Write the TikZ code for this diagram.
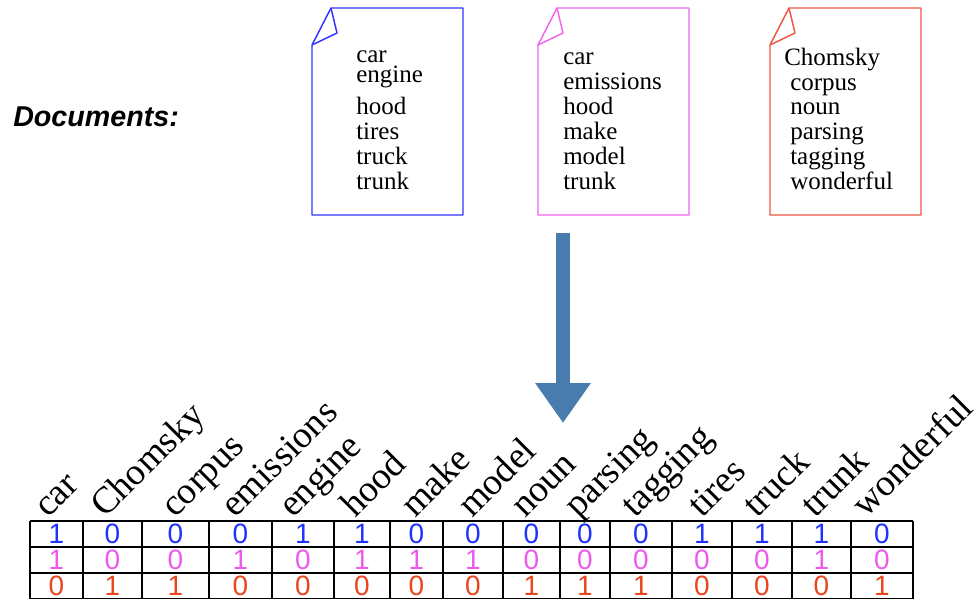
\documentclass[tikz,border=0pt]{standalone}
\usepackage{fontspec}
\setmainfont{Liberation Serif}
\setsansfont{Liberation Sans}
\usetikzlibrary{arrows.meta}
\definecolor{docblue}{RGB}{51,51,255}
\definecolor{docpink}{RGB}{238,102,238}
\definecolor{docred}{RGB}{238,85,68}
\definecolor{arrowblue}{RGB}{72,124,174}
\definecolor{valblue}{RGB}{30,50,255}
\definecolor{valpink}{RGB}{236,90,236}
\definecolor{valred}{RGB}{232,70,30}
\newcommand\docfont{\fontsize{18.75}{18.75}\selectfont}
\newcommand\termfont{\fontsize{28}{28}\selectfont}
\newcommand\cellfont{\sffamily\fontsize{21}{21}\selectfont}
\tikzset{
  heading/.style = {font=\sffamily\bfseries\itshape\fontsize{21.5}{21.5}\selectfont, anchor=base west, inner sep=0pt},
  docpage/.style = {line width=1.1pt, line join=round},
  docword/.style = {font=\docfont, anchor=base west, inner sep=0pt},
  bigarrow/.style = {arrowblue, line width=10.5pt, -{Triangle[width=39.75pt, length=30pt]}},
  termlabel/.style = {font=\termfont, rotate=45, anchor=base west, inner sep=0pt},
  cellval/.style = {font=\cellfont, inner sep=0pt},
  gridline/.style = {line width=1.3pt},
}

\begin{document}
\begin{tikzpicture}[x=0.75pt, y=-0.75pt]
  \useasboundingbox (0,0) rectangle (979,599);

  % heading
  \node[heading] (doclabel) at (13,127) {Documents:};

  % the three pages with a folded corner
  \foreach \L/\R/\col in {312/463/docblue, 538/689/docpink, 770/921/docred}{
    \draw[docpage, \col] (\L+19,8) -- (\R,8) -- (\R,215) -- (\L,215) -- (\L,45) -- cycle;
    \draw[docpage, \col] (\L,45) -- (\L+25,33) -- (\L+19,8);
  }

  % words on each page
  \foreach \w/\y [count=\i] in {car/63, engine/83, hood/115, tires/140, truck/165, trunk/190}
    \node[docword] (da\i) at (356,\y) {\w};
  \foreach \w/\y [count=\i] in {car/65, emissions/90, hood/115, make/140, model/165, trunk/190}
    \node[docword] (db\i) at (563,\y) {\w};
  \node[docword] (dc1) at (784,66) {Chomsky};
  \foreach \w/\y [count=\i from 2] in {corpus/91, noun/115, parsing/140, tagging/165, wonderful/190}
    \node[docword] (dc\i) at (790,\y) {\w};

  % arrow down to the matrix
  \coordinate (arrtop) at (563,233);
  \coordinate (arrtip) at (563,423);
  \draw[bigarrow] (arrtop) -- (arrtip);

  % term labels and the 0/1 cells
  \foreach \t/\lx/\a/\b/\c/\lo/\hi [count=\k] in {
      car/48/1/1/0/30/83, Chomsky/105/0/0/1/83/142, corpus/175/0/0/1/142/209,
      emissions/235/0/1/0/209/272, engine/293/1/0/0/272/334, hood/355/1/1/0/334/390,
      make/415/0/1/0/390/443, model/472/0/1/0/443/503, noun/525/0/0/1/503/560,
      parsing/578/0/0/1/560/610, tagging/635/0/0/1/610/672, tires/702/1/0/0/672/732,
      truck/757/1/0/0/732/792, trunk/815/1/1/0/792/851, wonderful/866/0/0/1/851/913}{
    \node[termlabel] (term\k) at (\lx,519) {\t};
    \node[cellval, valblue] (ca\k) at ({(\lo+\hi)/2},534) {\a};
    \node[cellval, valpink] (cb\k) at ({(\lo+\hi)/2},560) {\b};
    \node[cellval, valred] (cc\k) at ({(\lo+\hi)/2},586) {\c};
  }

  % grid
  \foreach \y in {521,547,573,599}
    \draw[gridline] (30,\y) -- (913,\y);
  \foreach \x in {30,83,142,209,272,334,390,443,503,560,610,672,732,792,851,913}
    \draw[gridline] (\x,521) -- (\x,599);
\end{tikzpicture}
\end{document}
